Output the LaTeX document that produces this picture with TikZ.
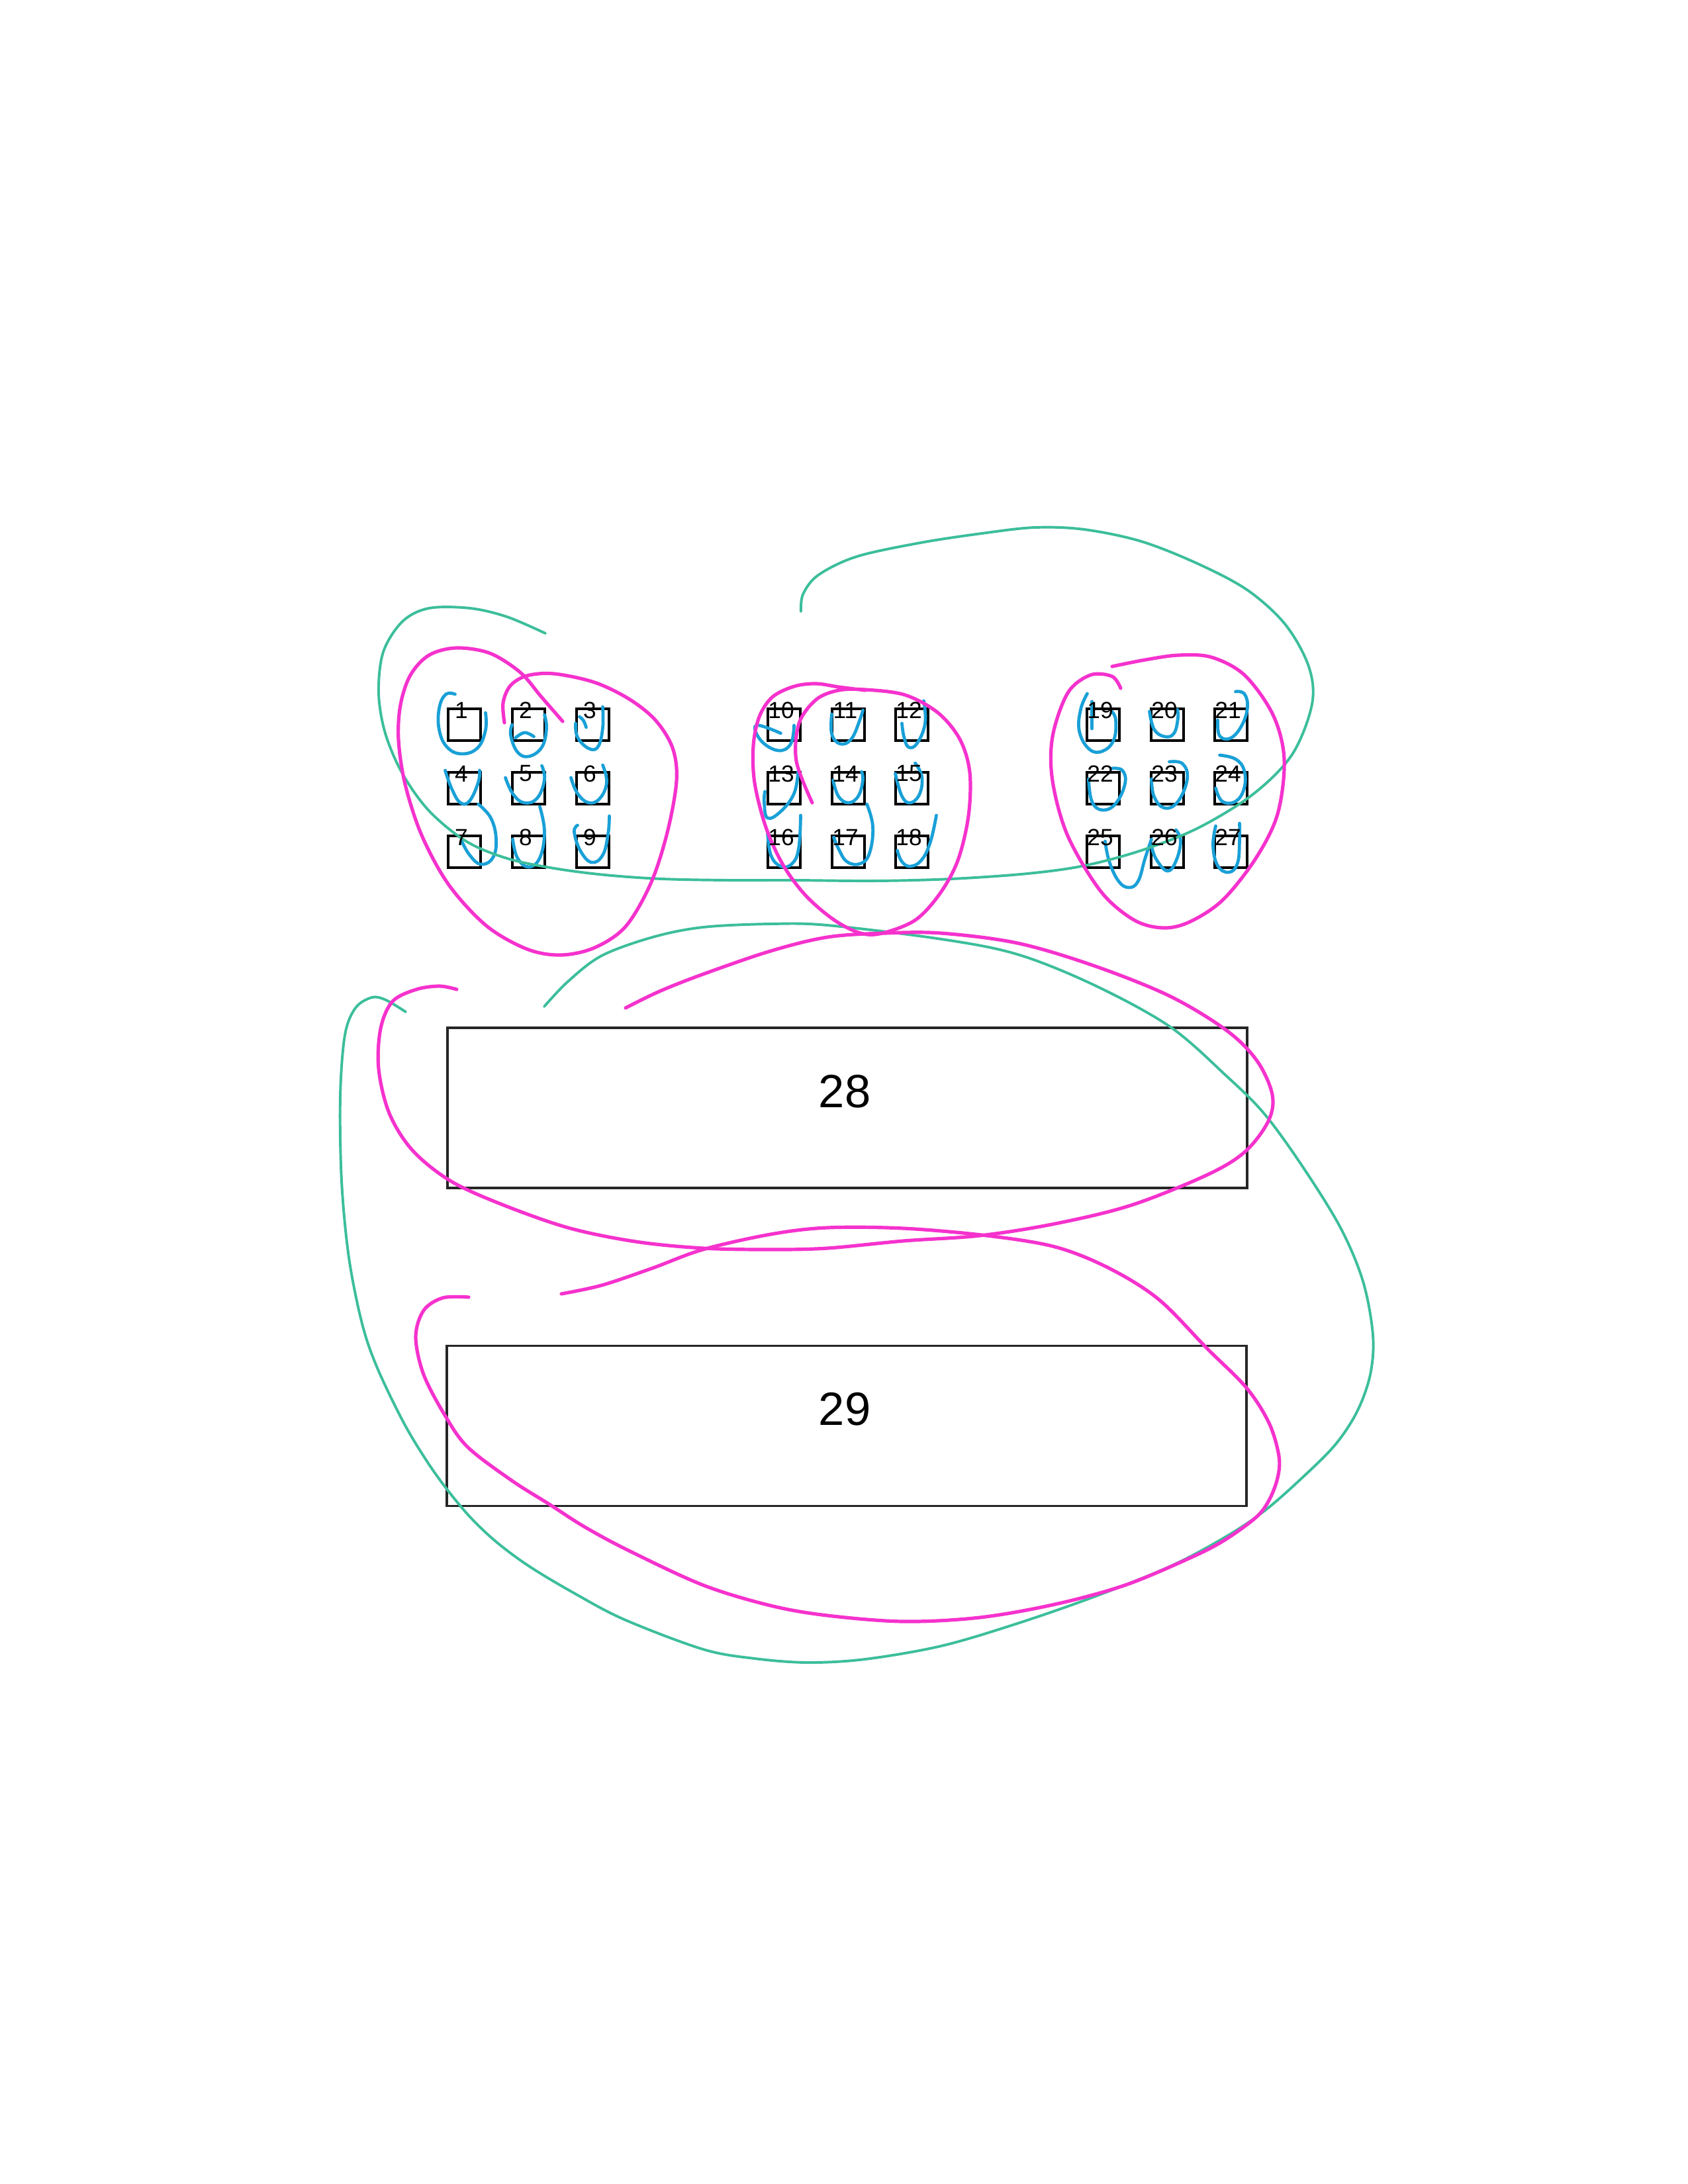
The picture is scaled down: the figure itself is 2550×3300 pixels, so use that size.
\documentclass[tikz,border=0pt]{standalone}
\usepackage{fontspec}
\setmainfont{Liberation Sans}
\begin{document}
\begin{tikzpicture}[x=0.2409pt, y=-0.2409pt,
  sq/.style={draw=black, line width=1pt, minimum width=11.8pt, minimum height=11.56pt, inner sep=0pt, outer sep=0pt},
  bigbox/.style={draw=black!85, line width=0.8pt, minimum width=291pt, minimum height=58.3pt, inner sep=0pt, outer sep=0pt},
  lab/.style={inner sep=0pt, font=\fontsize{8.5}{9}\selectfont},
  biglab/.style={inner sep=0pt, font=\fontsize{17}{19}\selectfont},
  pinkline/.style={draw={rgb,255:red,245;green,50;blue,205}, line width=1.25pt, line cap=round, line join=round},
  tealline/.style={draw={rgb,255:red,60;green,190;blue,155}, line width=0.95pt, line cap=round, line join=round},
  blueline/.style={draw={rgb,255:red,25;green,160;blue,215}, line width=1.15pt, line cap=round, line join=round}]
\useasboundingbox (0,0) rectangle (2550,3300);

% squares
\foreach \n/\cx/\cy in {1/701.5/1095, 2/798.5/1095, 3/895.5/1095,
                        4/701.5/1191, 5/798.5/1191, 6/895.5/1191,
                        7/701.5/1287, 8/798.5/1287, 9/895.5/1287,
                        10/1184.5/1095, 11/1281.5/1095, 12/1377.5/1095,
                        13/1184.5/1191, 14/1281.5/1191, 15/1377.5/1191,
                        16/1184.5/1287, 17/1281.5/1287, 18/1377.5/1287,
                        19/1666.5/1095, 20/1763.5/1095, 21/1859.5/1095,
                        22/1666.5/1191, 23/1763.5/1191, 24/1859.5/1191,
                        25/1666.5/1287, 26/1763.5/1287, 27/1859.5/1287}
  {\node[sq] (s\n) at (\cx,\cy) {};}

% large boxes
\node[bigbox] (r28) at (1280,1674) {};
\node[bigbox] (r29) at (1279,2154.5) {};

% blue loops around squares
\newcommand{\bloop}[2]{\draw[blueline, shift={(#1.center)}] plot[smooth, tension=0.7] coordinates {#2};}
\bloop{s1}{(-14,-46) (-28,-46) (-38,-25) (-38,8) (-26,34) (-4,44) (20,35) (32,8) (32,-18)}
\bloop{s2}{(-25,0) (-27,16) (-17,41) (0,48) (20,34) (27,6) (24,-15)}
\bloop{s2}{(-20,20) (-6,12) (8,18)}
\bloop{s3}{(-26,-2) (-23,19) (-6,36) (8,33) (15,5) (15,-27)}
\bloop{s3}{(-20,-12) (-14,-6) (-10,4)}
\bloop{s4}{(-29,-27) (-19,1) (-6,22) (8,19) (21,-9) (23,-27)}
\bloop{s5}{(-35,-16) (-24,8) (-7,22) (13,15) (24,-13) (20,-34)}
\bloop{s6}{(-33,-16) (-23,8) (-6,22) (11,15) (21,-9) (15,-35)}
\bloop{s7}{(21,-72) (40,-51) (48,-19) (43,9) (25,19) (8,5) (-4,-16)}
\bloop{s8}{(-24,-19) (-17,9) (0,23) (17,9) (24,-30) (17,-68)}
\bloop{s9}{(-23,-40) (-28,-30) (-19,-2) (-2,16) (15,5) (23,-26) (25,-54)}
\bloop{s10}{(-5,13) (-42,1) (-35,24) (-9,39) (10,29) (15,1)}
\bloop{s11}{(-25,-16) (-25,14) (-12,29) (5,21) (18,-9) (22,-22)}
\bloop{s12}{(-15,-2) (-12,18) (-5,34) (8,28) (20,-2) (18,-36)}
\bloop{s13}{(21,-25) (15,8) (-5,35) (-25,45) (-30,22) (-29,5)}
\bloop{s14}{(-23,-12) (-15,12) (0,22) (15,12) (22,-12) (20,-25)}
\bloop{s15}{(-25,-22) (-15,12) (-2,22) (12,8) (15,-18) (5,-38)}
\bloop{s16}{(-25,-30) (-20,5) (-5,22) (12,18) (22,-5) (25,-55)}
\bloop{s17}{(28,-72) (37,-38) (32,2) (18,18) (-2,15) (-15,-5) (-22,-22)}
\bloop{s18}{(-22,-2) (-15,15) (-2,22) (15,12) (28,-15) (37,-55)}
\bloop{s19}{(-24,-47) (-34,-23) (-36,10) (-21,37) (-1,40) (16,23) (19,-7) (13,-20)}
\bloop{s19}{(-17,-35) (-17,6)}
\bloop{s20}{(-27,-20) (-20,7) (-4,18) (10,13) (16,-10) (15,-23)}
\bloop{s21}{(-20,-7) (-17,17) (0,20) (17,0) (25,-27) (20,-47) (7,-50)}
\bloop{s22}{(13,-30) (29,-27) (33,-7) (19,23) (-1,33) (-17,20) (-22,-14)}
\bloop{s23}{(3,-40) (23,-37) (30,-14) (16,20) (-4,30) (-20,13) (-24,-14)}
\bloop{s24}{(-17,-50) (7,-44) (20,-27) (20,0) (7,20) (-13,20) (-23,0)}
\bloop{s25}{(3,-16) (9,14) (23,44) (39,54) (53,44) (63,11) (73,-19)}
\bloop{s26}{(-24,-9) (-17,11) (0,29) (13,14) (20,-16) (13,-33)}
\bloop{s27}{(13,-43) (13,-16) (10,17) (-3,31) (-20,21) (-27,-9) (-23,-39)}

% teal curves
\draw[tealline] plot[smooth, tension=0.55] coordinates {(824,957) (766,932) (710,919) (648,919) (608,939) (579,985) (572,1047) (582,1108) (608,1169) (648,1225) (704,1271) (766,1297) (837,1312) (914,1322) (1000,1328) (1100,1330) (1200,1330) (1322,1331) (1437,1328) (1552,1320) (1638,1308) (1724,1285) (1810,1251) (1893,1200) (1952,1140) (1982,1064) (1977,1007) (1942,944) (1885,892) (1810,852) (1724,818) (1638,800) (1563,797) (1483,806) (1391,820) (1294,841) (1236,869) (1213,898) (1210,924)};
\draw[tealline] plot[smooth, tension=0.55] coordinates {(822,1521) (858,1483) (909,1444) (986,1416) (1062,1401) (1164,1396) (1250,1398) (1422,1419) (1537,1442) (1652,1488) (1767,1551) (1853,1626) (1910,1683) (1968,1763) (2025,1855) (2059,1936) (2074,2017) (2070,2077) (2050,2133) (2017,2183) (1967,2233) (1910,2283) (1850,2323) (1767,2367) (1652,2413) (1537,2453) (1422,2487) (1307,2507) (1220,2512) (1140,2506) (1062,2492) (943,2447) (867,2407) (800,2367) (750,2330) (710,2292) (675,2250) (645,2208) (610,2150) (570,2067) (547,2000) (527,1900) (516,1784) (514,1656) (521,1564) (537,1523) (562,1507) (583,1511) (613,1529)};

% magenta curves
\draw[pinkline] plot[smooth, tension=0.55] coordinates {(850,1090) (817,1052) (786,1016) (740,987) (689,979) (648,990) (620,1020) (605,1065) (602,1118) (612,1185) (637,1262) (678,1337) (735,1399) (796,1434) (847,1443) (898,1432) (945,1400) (983,1335) (1008,1258) (1022,1180) (1016,1130) (990,1088) (950,1056) (898,1031) (837,1018) (796,1021) (771,1036) (760,1062) (762,1092)};
\draw[pinkline] plot[smooth, tension=0.55] coordinates {(1227,1213) (1203,1150) (1207,1093) (1233,1057) (1267,1043) (1307,1042) (1367,1050) (1417,1077) (1450,1117) (1465,1167) (1463,1233) (1447,1300) (1420,1350) (1383,1390) (1333,1410) (1300,1410) (1260,1390) (1217,1353) (1183,1307) (1157,1250) (1140,1183) (1138,1127) (1147,1083) (1167,1053) (1200,1037) (1233,1033) (1267,1038) (1307,1043)};
\draw[pinkline] plot[smooth, tension=0.55] coordinates {(1693,1040) (1680,1022) (1647,1020) (1613,1047) (1590,1113) (1590,1180) (1613,1263) (1663,1347) (1713,1390) (1757,1402) (1797,1393) (1847,1360) (1897,1297) (1930,1230) (1940,1147) (1923,1080) (1880,1020) (1830,993) (1780,990) (1730,997) (1680,1007)};
\draw[pinkline] plot[smooth, tension=0.55] coordinates {(690,1495) (664,1490) (629,1495) (593,1513) (575,1554) (572,1615) (588,1682) (623,1738) (680,1784) (756,1819) (858,1855) (960,1876) (1062,1886) (1164,1888) (1250,1886) (1365,1875) (1480,1867) (1594,1849) (1709,1821) (1824,1775) (1881,1740) (1916,1694) (1922,1654) (1899,1603) (1853,1557) (1767,1505) (1652,1459) (1537,1425) (1422,1410) (1336,1410) (1250,1416) (1164,1437) (1062,1472) (996,1498) (945,1523)};
\draw[pinkline] plot[smooth, tension=0.55] coordinates {(708,1960) (669,1961) (640,1980) (628,2020) (640,2077) (673,2140) (707,2187) (773,2237) (830,2273) (883,2307) (950,2343) (1062,2395) (1164,2426) (1250,2441) (1365,2450) (1480,2444) (1594,2424) (1700,2395) (1800,2353) (1850,2327) (1897,2293) (1917,2267) (1930,2233) (1932,2200) (1917,2150) (1883,2097) (1823,2037) (1750,1963) (1675,1916) (1594,1884) (1491,1867) (1365,1856) (1250,1855) (1164,1865) (1062,1888) (986,1916) (909,1942) (848,1955)};

% labels
\foreach \n in {1,...,27}
  {\path (s\n.center) ++(-4.5,-22) node[lab] (t\n) {\n};}
\node[biglab] (t28) at (1276,1649) {28};
\node[biglab] (t29) at (1276,2129) {29};
\end{tikzpicture}
\end{document}
